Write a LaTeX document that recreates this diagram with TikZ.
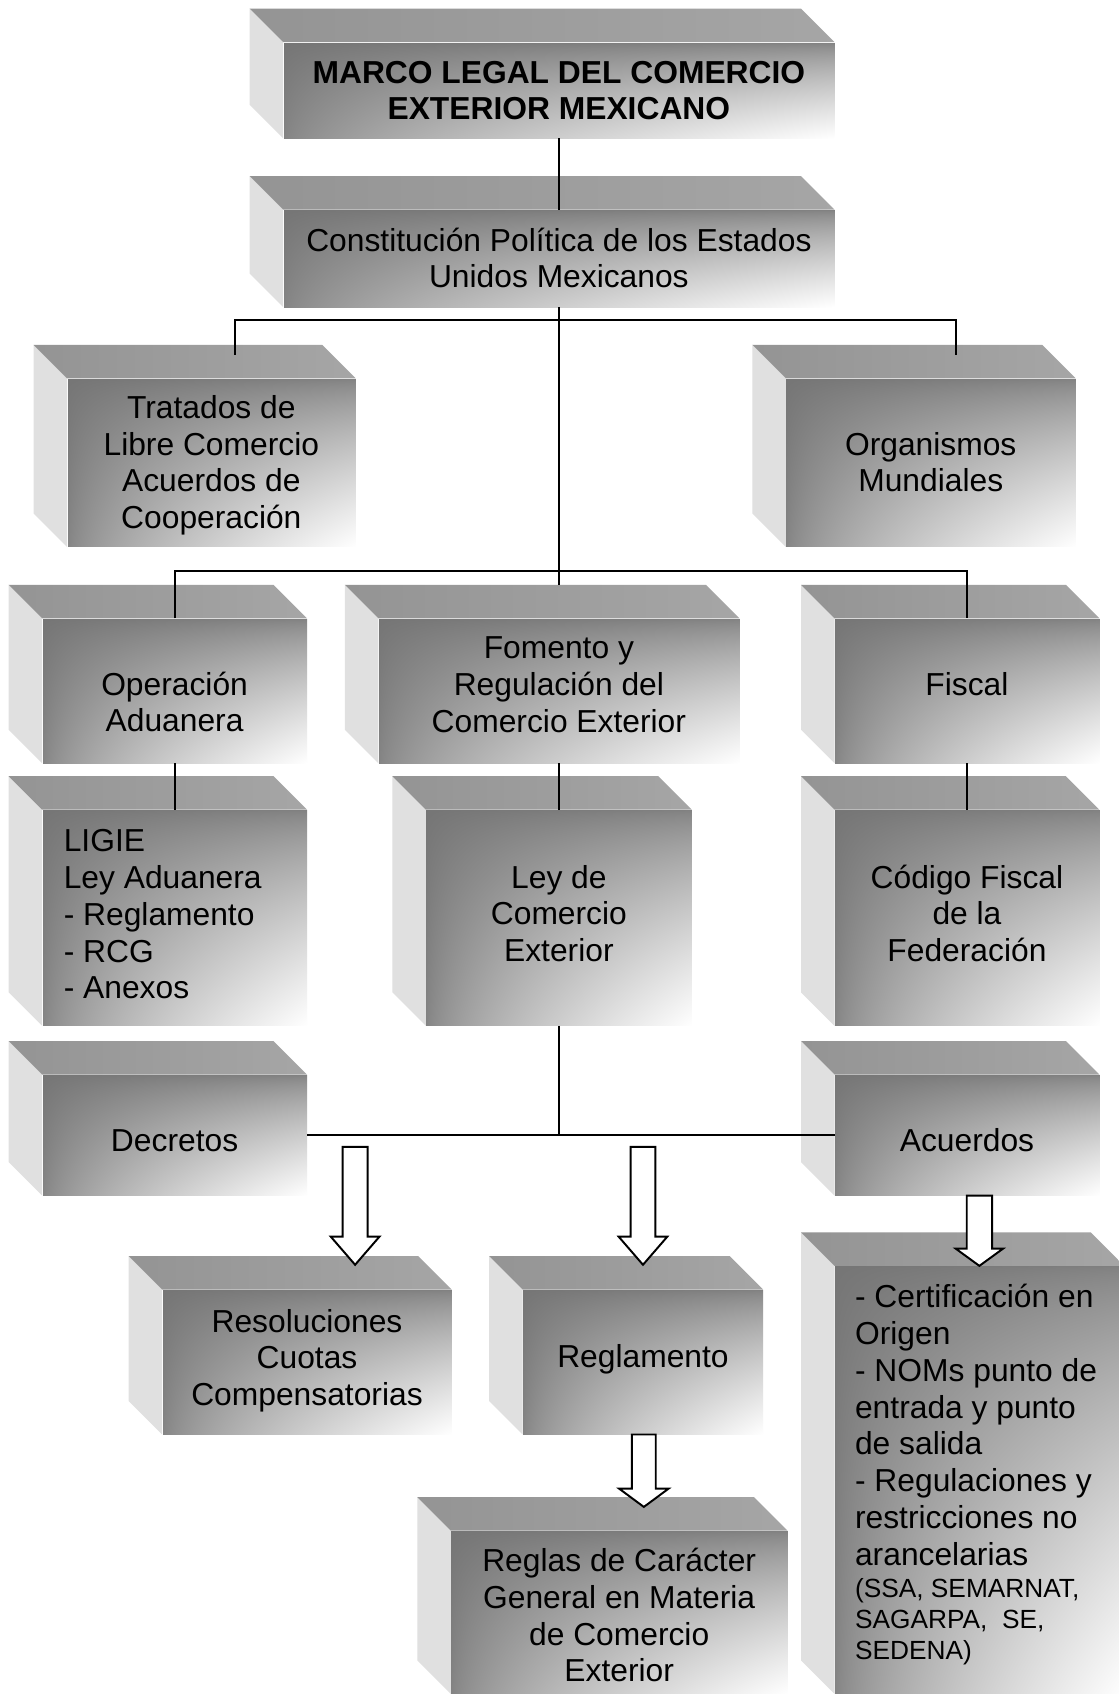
\documentclass[tikz,border=0pt]{standalone}
\usepackage{fontspec}
\setmainfont{Liberation Sans}
\usetikzlibrary{calc,shadings}
\definecolor{tpL}{gray}{0.58}
\definecolor{tpR}{gray}{0.65}
\definecolor{sideC}{gray}{0.88}
\pgfdeclarefunctionalshading{frontsh}{\pgfpoint{25bp}{25bp}}{\pgfpoint{75bp}{75bp}}{}{%
  25 sub 50 div 1 exch sub
  exch 25 sub 50 div
  2 copy mul abs 0.7 exp 0.45 mul
  exch 0.04 mul add
  exch 0.05 mul add
  0.46 add
  dup dup
}
\tikzset{
  frontface/.style={shading=frontsh},
  topface/.style={left color=tpL, right color=tpR},
  sideface/.style={fill=sideC},
  shapebox/.style={inner sep=0pt, outer sep=0pt},
  txt/.style={inner sep=0pt, outer sep=0pt, align=center, font=\fontsize{14.7}{17}\selectfont},
  txtl/.style={txt, align=left},
  conn/.style={draw=black, line width=0.9pt},
  barrow/.style={draw=black, fill=white, line width=0.9pt, line join=miter},
}
\newcommand\cubebox[5]{%
  \fill[sideface] (#2-31,#3-31) -- (#2,#3) -- (#2,#5) -- (#2-31,#5-31) -- cycle;
  \shade[topface] (#2-31,#3-31) -- (#4-31,#3-31) -- (#4,#3) -- (#2,#3) -- cycle;
  \shade[frontface] (#2,#3) rectangle (#4,#5);
  \node[shapebox, minimum width={(#4-#2)*0.5pt}, minimum height={(#5-#3)*0.5pt}] (#1) at ({(#2+#4)/2},{(#3+#5)/2}) {};
}
\newcommand\blockarrow[6]{% cx top headstart tip shafthalf headhalf
  \draw[barrow] (#1-#5,#2) -- (#1+#5,#2) -- (#1+#5,#3) -- (#1+#6,#3) -- (#1,#4) -- (#1-#6,#3) -- (#1-#5,#3) -- cycle;
}
\begin{document}
\begin{tikzpicture}[x=0.5pt, y=-0.5pt]
\fill[white] (0,0) rectangle (1035,1568);
\clip (0,0) rectangle (1035,1568);
% boxes
\cubebox{title}{262}{39}{772}{128}
\cubebox{const}{262}{194}{772}{284}
\cubebox{trat}{62}{350}{329}{506}
\cubebox{org}{727}{350}{995}{506}
\cubebox{oper}{39}{572}{284}{706}
\cubebox{fom}{350}{572}{684}{706}
\cubebox{fisc}{772}{572}{1017}{706}
\cubebox{ligie}{39}{749}{284}{949}
\cubebox{leycom}{394}{749}{640}{949}
\cubebox{cod}{772}{749}{1017}{949}
\cubebox{decr}{39}{994}{284}{1106}
\cubebox{acu}{772}{994}{1017}{1106}
\cubebox{resol}{150}{1193}{418}{1327}
\cubebox{regl}{483.5}{1193}{706}{1327}
\cubebox{reglas}{417}{1416}{728.6}{1567}
\cubebox{cert}{772}{1171}{1040}{1567}
% connectors
\coordinate (h1) at (517,296);
\coordinate (h2) at (517,528);
\draw[conn] (title.south) -- (const.north);
\draw[conn] (const.south) -- ($(fom.north)+(0,-31)$);
\draw[conn] ($(trat.north)+(21.5,-22)$) |- (h1) -| ($(org.north)+(23,-22)$);
\draw[conn] (oper.north) |- (h2) -| (fisc.north);
\draw[conn] (oper.south) -- (ligie.north);
\draw[conn] (fom.south) -- (leycom.north);
\draw[conn] (fisc.south) -- (cod.north);
\draw[conn] (leycom.south) -- (leycom.south |- decr.east);
\draw[conn] (decr.east) -- (acu.west);
% block arrows
\blockarrow{328.5}{1061}{1144}{1170}{11.5}{22.5}
\blockarrow{594.8}{1061}{1144}{1170}{11.5}{22.5}
\blockarrow{906}{1106}{1155}{1171}{11.7}{22}
\blockarrow{595.6}{1327}{1377}{1394}{11}{23}
% texts
\node[txt, font=\fontsize{14.7}{17}\selectfont\bfseries] (t-title) at (517,87) {\strut MARCO LEGAL DEL COMERCIO\\EXTERIOR MEXICANO\strut};
\node[txt] (t-const) at (517,242.5) {\strut Constitución Política de los Estados\\Unidos Mexicanos\strut};
\node[txt] (t-trat) at (195.5,431.2) {\strut Tratados de\\Libre Comercio\\Acuerdos de\\Cooperación\strut};
\node[txt] (t-org) at (861,431.2) {\strut Organismos\\Mundiales\strut};
\node[txt] (t-oper) at (161.5,653.2) {\strut Operación\\Aduanera\strut};
\node[txt] (t-fom) at (517,636.7) {\strut Fomento y\\Regulación del\\Comercio Exterior\strut};
\node[txt] (t-fisc) at (894.5,636.2) {\strut Fiscal\strut};
\node[txtl, anchor=west] (t-ligie) at (59,849.2) {\strut LIGIE\\Ley Aduanera\\- Reglamento\\- RCG\\- Anexos\strut};
\node[txt] (t-leycom) at (517,848.7) {\strut Ley de\\Comercio\\Exterior\strut};
\node[txt] (t-cod) at (894.5,848.7) {\strut Código Fiscal\\de la\\Federación\strut};
\node[txt] (t-decr) at (161.5,1058.2) {\strut Decretos\strut};
\node[txt] (t-acu) at (894.5,1058.2) {\strut Acuerdos\strut};
\node[txt] (t-resol) at (284,1259.5) {\strut Resoluciones\\Cuotas\\Compensatorias\strut};
\node[txt] (t-regl) at (594.8,1258.2) {\strut Reglamento\strut};
\node[txt] (t-reglas) at (572.8,1498) {\strut Reglas de Carácter\\General en Materia\\de Comercio\\Exterior\strut};
\node[txtl, anchor=north west] (t-cert) at (791,1186) {\strut - Certificación en\\Origen\\- NOMs punto de\\entrada y punto\\de salida\\- Regulaciones y\\restricciones no\\arancelarias\strut};
\node[txtl, anchor=north west, font=\fontsize{12.15}{14.25}\selectfont] (t-cert2) at (791,1458) {\strut (SSA, SEMARNAT,\\SAGARPA,\ \ SE,\\SEDENA)\strut};
\end{tikzpicture}
\end{document}
